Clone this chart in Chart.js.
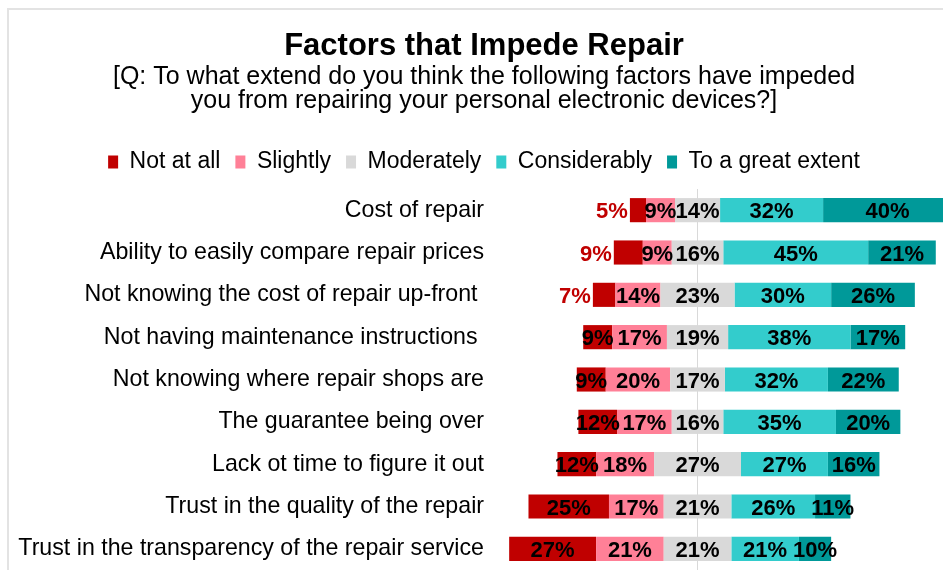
<!DOCTYPE html>
<html>
<head>
<meta charset="utf-8">
<title>Factors that Impede Repair</title>
<script src="https://cdn.jsdelivr.net/npm/chart.js@4/dist/chart.umd.min.js"></script>
<style>
    html, body { margin: 0; padding: 0; background: #ffffff; overflow: hidden; }
    #frame {
        position: absolute; left: 7px; top: 8px; width: 1000px; height: 600px;
        border-top: 2px solid #e3e3e3; border-left: 2px solid #e3e3e3;
    }
    #chart { position: absolute; left: 0; top: 0; }
</style>
</head>
<body>
<div id="frame"></div>
<!-- a bit wider than the window: the picture is cropped on the right -->
<canvas id="chart" width="958" height="570"></canvas>
<script>
const categories = [
    'Cost of repair',
    'Ability to easily compare repair prices',
    'Not knowing the cost of repair up-front ',
    'Not having maintenance instructions ',
    'Not knowing where repair shops are',
    'The guarantee being over',
    'Lack ot time to figure it out',
    'Trust in the quality of the repair',
    'Trust in the transparency of the repair service'
];
const seriesNames = ['Not at all', 'Slightly', 'Moderately', 'Considerably', 'To a great extent'];
const seriesColors = ['#C00000', '#FF8097', '#D9D9D9', '#33CCCC', '#009999'];

const notAtAll = [5, 9, 7, 9, 9, 12, 12, 25, 27];
const slightly = [9, 9, 14, 17, 20, 17, 18, 17, 21];
const moderately = [14, 16, 23, 19, 17, 16, 27, 21, 21];
const considerably = [32, 45, 30, 38, 32, 35, 27, 26, 21];
const greatExtent = [40, 21, 26, 17, 22, 20, 16, 11, 10];

// rows where the "Not at all" label sits outside the bar, in red
const outsideLabelRows = [0, 1, 2];

const fontFamily = '"Liberation Sans", Arial, sans-serif';

function makeDataset(name, values, sign, half) {
    let idx = seriesNames.indexOf(name);
    return {
        label: name,
        data: values.map(v => sign * (half ? v / 2 : v)),
        rawValues: values,
        backgroundColor: seriesColors[idx],
        borderWidth: 0,
        stack: 'all',
        barPercentage: 0.57,
        categoryPercentage: 1.0
    };
}

// left side grows outward from the centre: moderately half, slightly, not at all
let modLeft = makeDataset('Moderately', moderately, -1, true);
modLeft.hideInLegend = true;
modLeft.noLabel = true;
let modRight = makeDataset('Moderately', moderately, 1, true);
modRight.centreLabel = true;
let notAtAllSet = makeDataset('Not at all', notAtAll, -1, false);
notAtAllSet.outsideRows = outsideLabelRows;

const datasets = [
    modLeft,
    makeDataset('Slightly', slightly, -1, false),
    notAtAllSet,
    modRight,
    makeDataset('Considerably', considerably, 1, false),
    makeDataset('To a great extent', greatExtent, 1, false)
];

const valueLabels = {
    id: 'valueLabels',
    afterDatasetsDraw(chart) {
        let ctx = chart.ctx;
        let zero = chart.scales.x.getPixelForValue(0);
        ctx.save();
        ctx.font = 'bold 22px ' + fontFamily;
        ctx.textBaseline = 'middle';
        chart.data.datasets.forEach(function(ds, di) {
            if (ds.noLabel) return;
            let meta = chart.getDatasetMeta(di);
            meta.data.forEach(function(el, i) {
                let text = ds.rawValues[i] + '%';
                let left = Math.min(el.x, el.base);
                let right = Math.max(el.x, el.base);
                let y = el.y + 2;
                if (ds.outsideRows && ds.outsideRows.indexOf(i) !== -1) {
                    ctx.fillStyle = '#C00000';
                    ctx.textAlign = 'right';
                    ctx.fillText(text, left - 2, y);
                    return;
                }
                ctx.fillStyle = '#000000';
                ctx.textAlign = 'center';
                let x = ds.centreLabel ? zero : (left + right) / 2;
                ctx.fillText(text, x, y);
            });
        });
        ctx.restore();
    }
};

new Chart(document.getElementById('chart'), {
    type: 'bar',
    data: {
        labels: categories,
        datasets: datasets
    },
    options: {
        indexAxis: 'y',
        responsive: false,
        animation: false,
        devicePixelRatio: 1,
        layout: {
            padding: { left: 10, right: 0, top: 0, bottom: 0 }
        },
        scales: {
            x: {
                type: 'linear',
                position: 'top',
                stacked: true,
                min: -62.9,
                max: 80.9,
                afterBuildTicks: function(scale) {
                    scale.ticks = [{ value: 0 }];
                },
                afterFit: function(scale) {
                    scale.height = 5.5;
                    scale.paddingLeft = 0;
                    scale.paddingRight = 0;
                },
                ticks: { display: false },
                border: { display: false },
                grid: {
                    drawTicks: false,
                    color: '#D9D9D9',
                    lineWidth: 1
                }
            },
            y: {
                stacked: true,
                afterFit: function(scale) {
                    scale.width = 485;
                    // labels sit inside their bands, no extra room needed
                    scale.paddingTop = 0;
                    scale.paddingBottom = 0;
                },
                border: { display: false },
                grid: { display: false, drawTicks: false },
                ticks: {
                    padding: 11,
                    color: '#000000',
                    font: { family: fontFamily, size: 23.2 }
                }
            }
        },
        plugins: {
            title: {
                display: true,
                text: 'Factors that Impede Repair',
                color: '#000000',
                font: { family: fontFamily, size: 31, weight: 'bold', lineHeight: 1.2 },
                padding: { top: 27.4, bottom: 0 }
            },
            subtitle: {
                display: true,
                text: [
                    '[Q: To what extend do you think the following factors have impeded',
                    'you from repairing your personal electronic devices?]'
                ],
                color: '#000000',
                font: { family: fontFamily, size: 25, lineHeight: '24.5px' },
                padding: { top: 0, bottom: 21.9 }
            },
            legend: {
                display: true,
                position: 'top',
                labels: {
                    color: '#000000',
                    font: { family: fontFamily, size: 23 },
                    boxWidth: 10,
                    boxHeight: 13,
                    padding: 15,
                    filter: function(item, data) {
                        return !data.datasets[item.datasetIndex].hideInLegend;
                    },
                    sort: function(a, b) {
                        return seriesNames.indexOf(a.text) - seriesNames.indexOf(b.text);
                    }
                }
            },
            tooltip: { enabled: false }
        }
    },
    plugins: [valueLabels]
});
</script>
</body>
</html>
